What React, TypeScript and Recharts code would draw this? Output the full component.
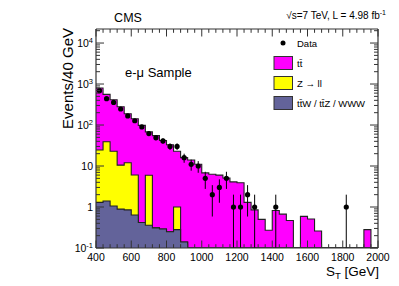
import React from "react";
import { ComposedChart, Area, Scatter, ErrorBar, XAxis, YAxis, Legend } from "recharts";

// 40 GeV bins, lower edges + final upper edge
const binEdges = [
  400, 440, 480, 520, 560, 600, 640, 680, 720, 760, 800, 840, 880, 920, 960, 1000, 1040, 1080, 1120, 1160,
  1200, 1240, 1280, 1320, 1360, 1400, 1440, 1480, 1520, 1560, 1600, 1640, 1680, 1720, 1760, 1800, 1840, 1880,
  1920, 1960, 2000,
];

// stacked MC contributions per bin (events / 40 GeV)
const ttbar = [
  775, 520, 392, 269, 176, 136, 97.5, 62, 54.7, 41.7, 32.7, 22, 15.9, 14, 11, 6.8, 6.3, 6.0, 5.1, 4.1, 3.9, 1.3,
  0.85, 0.5, 0.27, 0.82, 0.67, 0.47, 0, 0.59, 0.51, 0.26, 0, 0, 0, 0, 0, 0, 0.28, 0,
];
const zll = [
  23.2, 37.6, 21.9, 9.6, 11.2, 5.4, 0, 5.6, 0, 0, 0, 0.72, 0, 0, 0, 0, 0, 0, 0, 0, 0, 0, 0, 0, 0, 0, 0, 0, 0, 0,
  0, 0, 0, 0, 0, 0, 0, 0, 0, 0,
];
const ttv = [
  1.3, 1.4, 1.06, 0.89, 0.85, 0.64, 0.42, 0.36, 0.31, 0.29, 0.25, 0.28, 0.14, 0, 0, 0, 0, 0, 0, 0, 0, 0, 0, 0, 0,
  0, 0, 0, 0, 0, 0, 0, 0, 0, 0, 0, 0, 0, 0, 0,
];

// observed counts
const dataCounts = [
  690, 440, 356, 246, 167, 127, 90, 62, 49, 41, 30, 30, 16, 11, 10, 5, 2, 3, 5, 1, 1, 2, 1, 0, 0, 1, 0, 0, 0, 0,
  0, 0, 0, 0, 0, 1, 0, 0, 0, 0,
];

const xMajorTicks = [400, 600, 800, 1000, 1200, 1400, 1600, 1800, 2000];

const legendItems = [
  { label: "Data", kind: "dot", color: "#000" },
  { label: "tt\u0304", kind: "box", color: "#ff00ff" },
  { label: "Z \u2192 ll", kind: "box", color: "#ffff00" },
  { label: "tt\u0304W / tt\u0304Z / WWW", kind: "box", color: "#63639a" },
];

const Y_MIN = 0.1;
const Y_MAX = 2.2e4;
const FONT = "'Liberation Sans', Arial, Helvetica, sans-serif";
const FRAME = "#333";

const nBins = binEdges.length - 1;
const rows = binEdges.map((x, i) => {
  const j = Math.min(i, nBins - 1);
  const v = ttv[j];
  const z = v + zll[j];
  const t = z + ttbar[j];
  return { x, ttv: Math.max(v, Y_MIN), zll: Math.max(z, Y_MIN), tt: Math.max(t, Y_MIN) };
});

const points = dataCounts
  .map((n, j) => ({
    x: (binEdges[j] + binEdges[j + 1]) / 2,
    n,
    err: [n - Math.max(n - Math.sqrt(n), Y_MIN), Math.sqrt(n)],
  }))
  .filter((p) => p.n > 0);

const yTicks: number[] = [];
for (let d = -1; d <= 4; d++) {
  for (let m = 1; m <= 9; m++) {
    const v = m * Math.pow(10, d);
    if (v <= Y_MAX) yTicks.push(Number(v.toPrecision(3)));
  }
}

const XTick = (props: any) => {
  const { x, y, payload, side } = props;
  const major = xMajorTicks.includes(payload.value);
  const len = major ? 7.5 : 3.8;
  const dir = side === "bottom" ? -1 : 1;
  return (
    <g>
      <line x1={x} x2={x} y1={y} y2={y + dir * len} stroke={FRAME} strokeWidth={1} />
      {side === "bottom" && major && (
        <text x={x} y={y + 13} textAnchor="middle" fontSize={10.5} fontFamily={FONT} fill="#000">
          {payload.value}
        </text>
      )}
    </g>
  );
};

const YTick = (props: any) => {
  const { x, y, payload, side } = props;
  const exp = Math.round(Math.log10(payload.value));
  const major = Math.abs(Math.log10(payload.value) - exp) < 1e-6;
  const len = major ? 8 : 4;
  const dir = side === "left" ? 1 : -1;
  let label: React.ReactNode = null;
  if (side === "left" && major) {
    if (exp === 0 || exp === 1) {
      label = String(Math.pow(10, exp));
    } else {
      label = (
        <>
          <tspan>10</tspan>
          <tspan dy={-4.5} fontSize={7.5}>
            {exp}
          </tspan>
        </>
      );
    }
  }
  return (
    <g>
      <line x1={x} x2={x + dir * len} y1={y} y2={y} stroke={FRAME} strokeWidth={1} />
      {label !== null && (
        <text x={x - 3} y={y + 4} textAnchor="end" fontSize={10.5} fontFamily={FONT} fill="#000">
          {label}
        </text>
      )}
    </g>
  );
};

const renderLegend = () => (
  <svg width={125} height={80} style={{ display: "block" }}>
    {legendItems.map((it, i) => {
      const cy = 10 + i * 20;
      return (
        <g key={it.label}>
          {it.kind === "dot" ? (
            <circle cx={12} cy={cy} r={2.5} fill={it.color} />
          ) : (
            <rect x={3} y={cy - 6.5} width={18.5} height={13} fill={it.color} stroke="#333" strokeWidth={1} />
          )}
          <text x={26} y={cy + 3.5} fontSize={9.5} fontFamily={FONT} fill="#000">
            {it.label}
          </text>
        </g>
      );
    })}
  </svg>
);

const axisCommon = {
  allowDataOverflow: true,
  interval: 0 as const,
  tickSize: 0,
  tickMargin: 0,
  tickLine: false,
  axisLine: { stroke: FRAME, strokeWidth: 1.2 },
};

export default function App() {
  return (
    <div style={{ position: "absolute", left: 0, top: 0, width: 399, height: 286, background: "#fff", fontFamily: FONT }}>
      <ComposedChart
        width={399}
        height={286}
        data={rows}
        margin={{ top: 28, right: 20, bottom: 37, left: 95 }}
      >
        <XAxis
          {...axisCommon}
          xAxisId="b"
          dataKey="x"
          type="number"
          domain={[400, 2000]}
          ticks={binEdges}
          height={1}
          tick={(p: any) => <XTick {...p} side="bottom" />}
        />
        <XAxis
          {...axisCommon}
          xAxisId="t"
          orientation="top"
          dataKey="x"
          type="number"
          domain={[400, 2000]}
          ticks={binEdges}
          height={1}
          tick={(p: any) => <XTick {...p} side="top" />}
        />
        <YAxis
          {...axisCommon}
          yAxisId="l"
          type="number"
          scale="log"
          domain={[Y_MIN, Y_MAX]}
          ticks={yTicks}
          width={1}
          tick={(p: any) => <YTick {...p} side="left" />}
        />
        <YAxis
          {...axisCommon}
          yAxisId="r"
          orientation="right"
          type="number"
          scale="log"
          domain={[Y_MIN, Y_MAX]}
          ticks={yTicks}
          width={1}
          tick={(p: any) => <YTick {...p} side="right" />}
        />
        <Area
          xAxisId="b"
          yAxisId="l"
          dataKey="tt"
          type="stepAfter"
          baseValue={Y_MIN}
          fill="#ff00ff"
          fillOpacity={1}
          stroke="#222"
          strokeWidth={1.1}
          dot={false}
          activeDot={false}
          isAnimationActive={false}
        />
        <Area
          xAxisId="b"
          yAxisId="l"
          dataKey="zll"
          type="stepAfter"
          baseValue={Y_MIN}
          fill="#ffff00"
          fillOpacity={1}
          stroke="#222"
          strokeWidth={1.1}
          dot={false}
          activeDot={false}
          isAnimationActive={false}
        />
        <Area
          xAxisId="b"
          yAxisId="l"
          dataKey="ttv"
          type="stepAfter"
          baseValue={Y_MIN}
          fill="#63639a"
          fillOpacity={1}
          stroke="#222"
          strokeWidth={1.1}
          dot={false}
          activeDot={false}
          isAnimationActive={false}
        />
        <Scatter
          xAxisId="b"
          yAxisId="l"
          data={points}
          dataKey="n"
          isAnimationActive={false}
          shape={(p: any) => <circle cx={p.cx} cy={p.cy} r={2.6} fill="#000" />}
        >
          <ErrorBar dataKey="err" direction="y" width={0} stroke="#000" strokeWidth={1} isAnimationActive={false} />
        </Scatter>
        <Legend
          layout="horizontal"
          align="center"
          verticalAlign="middle"
          content={renderLegend}
          wrapperStyle={{ left: 271, top: 33, width: 125, height: 80 }}
        />
      </ComposedChart>
      <svg
        width={399}
        height={286}
        style={{ position: "absolute", left: 0, top: 0, pointerEvents: "none" }}
        fontFamily={FONT}
      >
        <text x={128} y={21.5} textAnchor="middle" fontSize={12.5}>
          CMS
        </text>
        <text x={386} y={19} textAnchor="end" fontSize={10}>
          √s=7 TeV, L = 4.98 fb
          <tspan dy={-4} fontSize={7}>
            -1
          </tspan>
        </text>
        <text x={125} y={77} fontSize={13}>
          e-μ Sample
        </text>
        <text x={73} y={28} textAnchor="end" fontSize={15} transform="rotate(-90 73 28)">
          Events/40 GeV
        </text>
        <text x={379} y={276} textAnchor="end" fontSize={13.5}>
          S
          <tspan dy={3} fontSize={9.5}>
            T
          </tspan>
          <tspan dy={-3}> [GeV]</tspan>
        </text>
      </svg>
    </div>
  );
}
